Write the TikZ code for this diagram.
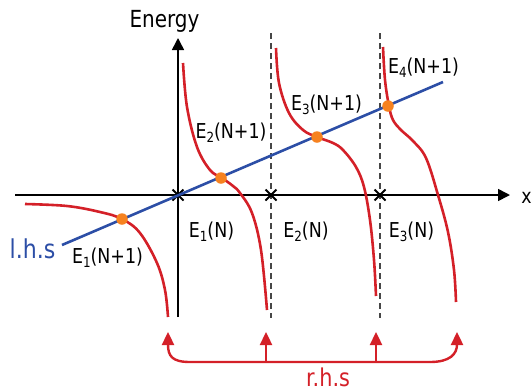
\documentclass[tikz,border=0pt]{standalone}
\usepackage{fontspec}
\setmainfont{DejaVu Sans}[FakeStretch=0.85]
\usetikzlibrary{arrows.meta}
\definecolor{cred}{RGB}{212,32,40}
\definecolor{cblue}{RGB}{44,78,166}
\definecolor{corange}{RGB}{246,130,32}
\definecolor{cdash}{RGB}{70,70,70}
\newcommand\lowsub[1]{\raisebox{-4pt}{\fontsize{14}{14}\selectfont #1}}
\begin{document}
\begin{tikzpicture}[x=1pt,y=-1pt,
  axis/.style={line width=1.6pt,black,-{Triangle[length=12pt,width=12pt]}},
  vdash/.style={line width=1.5pt,cdash,dash pattern=on 6pt off 4pt},
  rcurve/.style={line width=2.6pt,cred,smooth,tension=0.6},
  bline/.style={line width=2.6pt,cblue},
  dot/.style={circle,fill=corange,inner sep=0pt,minimum size=11.5pt},
  crossm/.style={line width=1.8pt,black},
  lbl/.style={anchor=base,inner sep=0pt,font=\fontsize{20.5}{24}\selectfont},
  big/.style={anchor=base,inner sep=0pt,font=\fontsize{26}{30}\selectfont},
  rarrow/.style={line width=2.4pt,cred,-{Triangle[length=13pt,width=12pt]}}]
\useasboundingbox (0,0) rectangle (532,389);
% axes
\coordinate (xs) at (15,195);
\coordinate (xe) at (510,195);
\coordinate (ys) at (178,317);
\coordinate (ye) at (178,38);
\draw[axis] (xs) -- (xe);
\draw[axis] (ys) -- (ye);
\node[lbl,font=\fontsize{23.5}{26}\selectfont] (energy) at (164.5,27) {Energy};
\node[lbl] (xlab) at (526.5,203) {x};
% dashed lines
\coordinate (v1t) at (271,33);
\coordinate (v1b) at (271,318);
\coordinate (v2t) at (380,33);
\coordinate (v2b) at (380,318);
\draw[vdash] (v1t) -- (v1b);
\draw[vdash] (v2t) -- (v2b);
% crosses
\foreach \n/\cx in {c1/178,c2/271,c3/380}{
  \coordinate (\n) at (\cx,195);
  \draw[crossm] ([shift={(-5.5,-5.5)}]\n) -- ([shift={(5.5,5.5)}]\n);
  \draw[crossm] ([shift={(-5.5,5.5)}]\n) -- ([shift={(5.5,-5.5)}]\n);
}
% red curves
\draw[rcurve] plot coordinates {(25,204) (67,206) (100,212) (122,219) (140,233) (157,263) (165,290) (168,317)};
\draw[rcurve] plot coordinates {(183,63) (187,107) (197,147) (210,170) (222,178) (233,186) (240,193) (252,213) (261,250) (267,310)};
\draw[rcurve] plot coordinates {(276,48) (279,83) (289,113) (303,130) (317,137) (333,143) (343,150) (356,167) (364,187) (370,220) (374,260) (376,296)};
\draw[rcurve] plot coordinates {(383,47) (385,80) (389,106) (393,120) (401,130) (413,141) (426,158) (438,195) (448,232) (454,270) (456,302)};
% blue line
\coordinate (b1) at (62,245);
\coordinate (b2) at (443,82);
\draw[bline] (b1) -- (b2);
% dots
\node[dot] (d1) at (122,219) {};
\node[dot] (d2) at (221,178) {};
\node[dot] (d3) at (317,137) {};
\node[dot] (d4) at (388,106) {};
% labels
\node[lbl] (e1n1) at (107.5,263) {E\lowsub{1}(N+1)};
\node[lbl] (e2n1) at (231,138) {E\lowsub{2}(N+1)};
\node[lbl] (e3n1) at (326.5,110) {E\lowsub{3}(N+1)};
\node[lbl] (e4n1) at (423.5,73) {E\lowsub{4}(N+1)};
\node[lbl] (e1n) at (211.5,237) {E\lowsub{1}(N)};
\node[lbl] (e2n) at (306,237) {E\lowsub{2}(N)};
\node[lbl] (e3n) at (411.5,237) {E\lowsub{3}(N)};
\node[big,text=cblue] (lhs) at (32.5,258) {l.h.s};
\node[big,text=cred,font=\fontsize{24.5}{28}\selectfont] (rhs) at (328,386.5) {r.h.s};
% bracket
\coordinate (t1) at (168,332);
\coordinate (t2) at (266,332);
\coordinate (t3) at (376,332);
\coordinate (t4) at (457,332);
\coordinate (h1) at (190,362);
\coordinate (h2) at (266,362);
\coordinate (h3) at (376,362);
\coordinate (h4) at (430,362);
\draw[rarrow] (h4) -- (h1) .. controls (172,362) and (168,356) .. (t1);
\draw[rarrow] (h4) .. controls (450,362) and (457,354) .. (t4);
\draw[rarrow] (h2) -- (t2);
\draw[rarrow] (h3) -- (t3);
\end{tikzpicture}
\end{document}
